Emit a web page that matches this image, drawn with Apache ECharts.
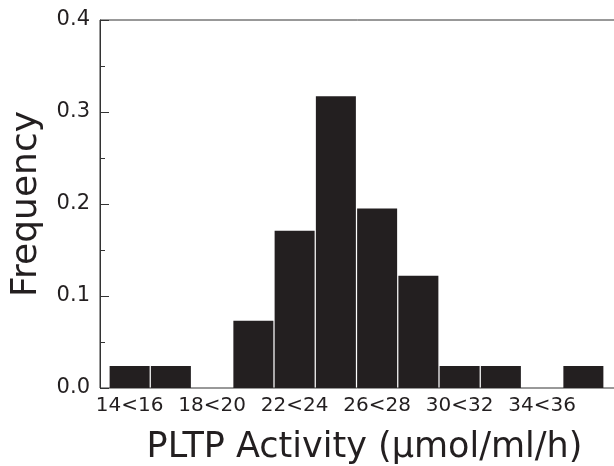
<!DOCTYPE html>
<html>
<head>
<meta charset="utf-8">
<script src="https://cdn.jsdelivr.net/npm/echarts@6/dist/echarts.min.js"></script>
<style>
html,body{margin:0;padding:0;background:#fff;}
#chart{width:614px;height:466px;}
</style>
</head>
<body>
<div id="chart"></div>
<script>
var categories = ['14<16','16<18','18<20','20<22','22<24','24<26','26<28','28<30','30<32','32<34','34<36','36<38'];
var frequencies = [0.024, 0.024, 0, 0.073, 0.171, 0.317, 0.195, 0.122, 0.024, 0.024, 0, 0.024];
var yTicks = [0, 0.1, 0.2, 0.3, 0.4];
var xTitle = 'PLTP Activity (\u00b5mol/ml/h)';
var yTitle = 'Frequency';

var FONT = 'DejaVu Sans';
var chart = echarts.init(document.getElementById('chart'), null, {renderer: 'canvas'});
chart.setOption({
  animation: false,
  backgroundColor: '#ffffff',
  grid: [
    {left: 100, top: 20, width: 516, height: 368, show: true, borderColor: '#333', borderWidth: 1, backgroundColor: 'transparent', containLabel: false, outerBoundsMode: 'none'},
    {left: 109, top: 20, width: 495, height: 368, containLabel: false, outerBoundsMode: 'none'}
  ],
  xAxis: [
    {gridIndex: 0, type: 'value', min: 0, max: 1, show: false},
    {
      gridIndex: 1, type: 'category', data: categories,
      axisLine: {show: false}, axisTick: {show: false},
      axisLabel: {interval: 1, color: '#231f20', fontFamily: FONT, fontSize: 20, margin: 8},
      name: xTitle, nameLocation: 'middle', nameGap: 42, nameMoveOverlap: false,
      nameTextStyle: {color: '#231f20', fontFamily: FONT, fontSize: 35, padding: [0, 0, 0, 16]}
    }
  ],
  yAxis: [
    {
      gridIndex: 0, type: 'value', min: 0, max: 0.4, interval: 0.1,
      axisLine: {show: true, lineStyle: {color: '#333', width: 1}},
      axisTick: {show: true, inside: true, length: 9, lineStyle: {color: '#333'}},
      minorTick: {show: true, splitNumber: 2, length: 5, lineStyle: {color: '#333'}},
      splitLine: {show: false},
      axisLabel: {
        color: '#231f20', fontFamily: FONT, fontSize: 21, margin: 10,
        formatter: function (v) { return v.toFixed(1); }
      },
      name: yTitle, nameLocation: 'middle', nameGap: 55, nameRotate: 90, nameMoveOverlap: false,
      nameTextStyle: {color: '#231f20', fontFamily: FONT, fontSize: 36}
    },
    {gridIndex: 1, type: 'value', min: 0, max: 0.4, show: false}
  ],
  series: [{
    type: 'bar', xAxisIndex: 1, yAxisIndex: 1,
    data: frequencies, barCategoryGap: '3%',
    itemStyle: {color: '#231f20'}
  }]
});
</script>
</body>
</html>
